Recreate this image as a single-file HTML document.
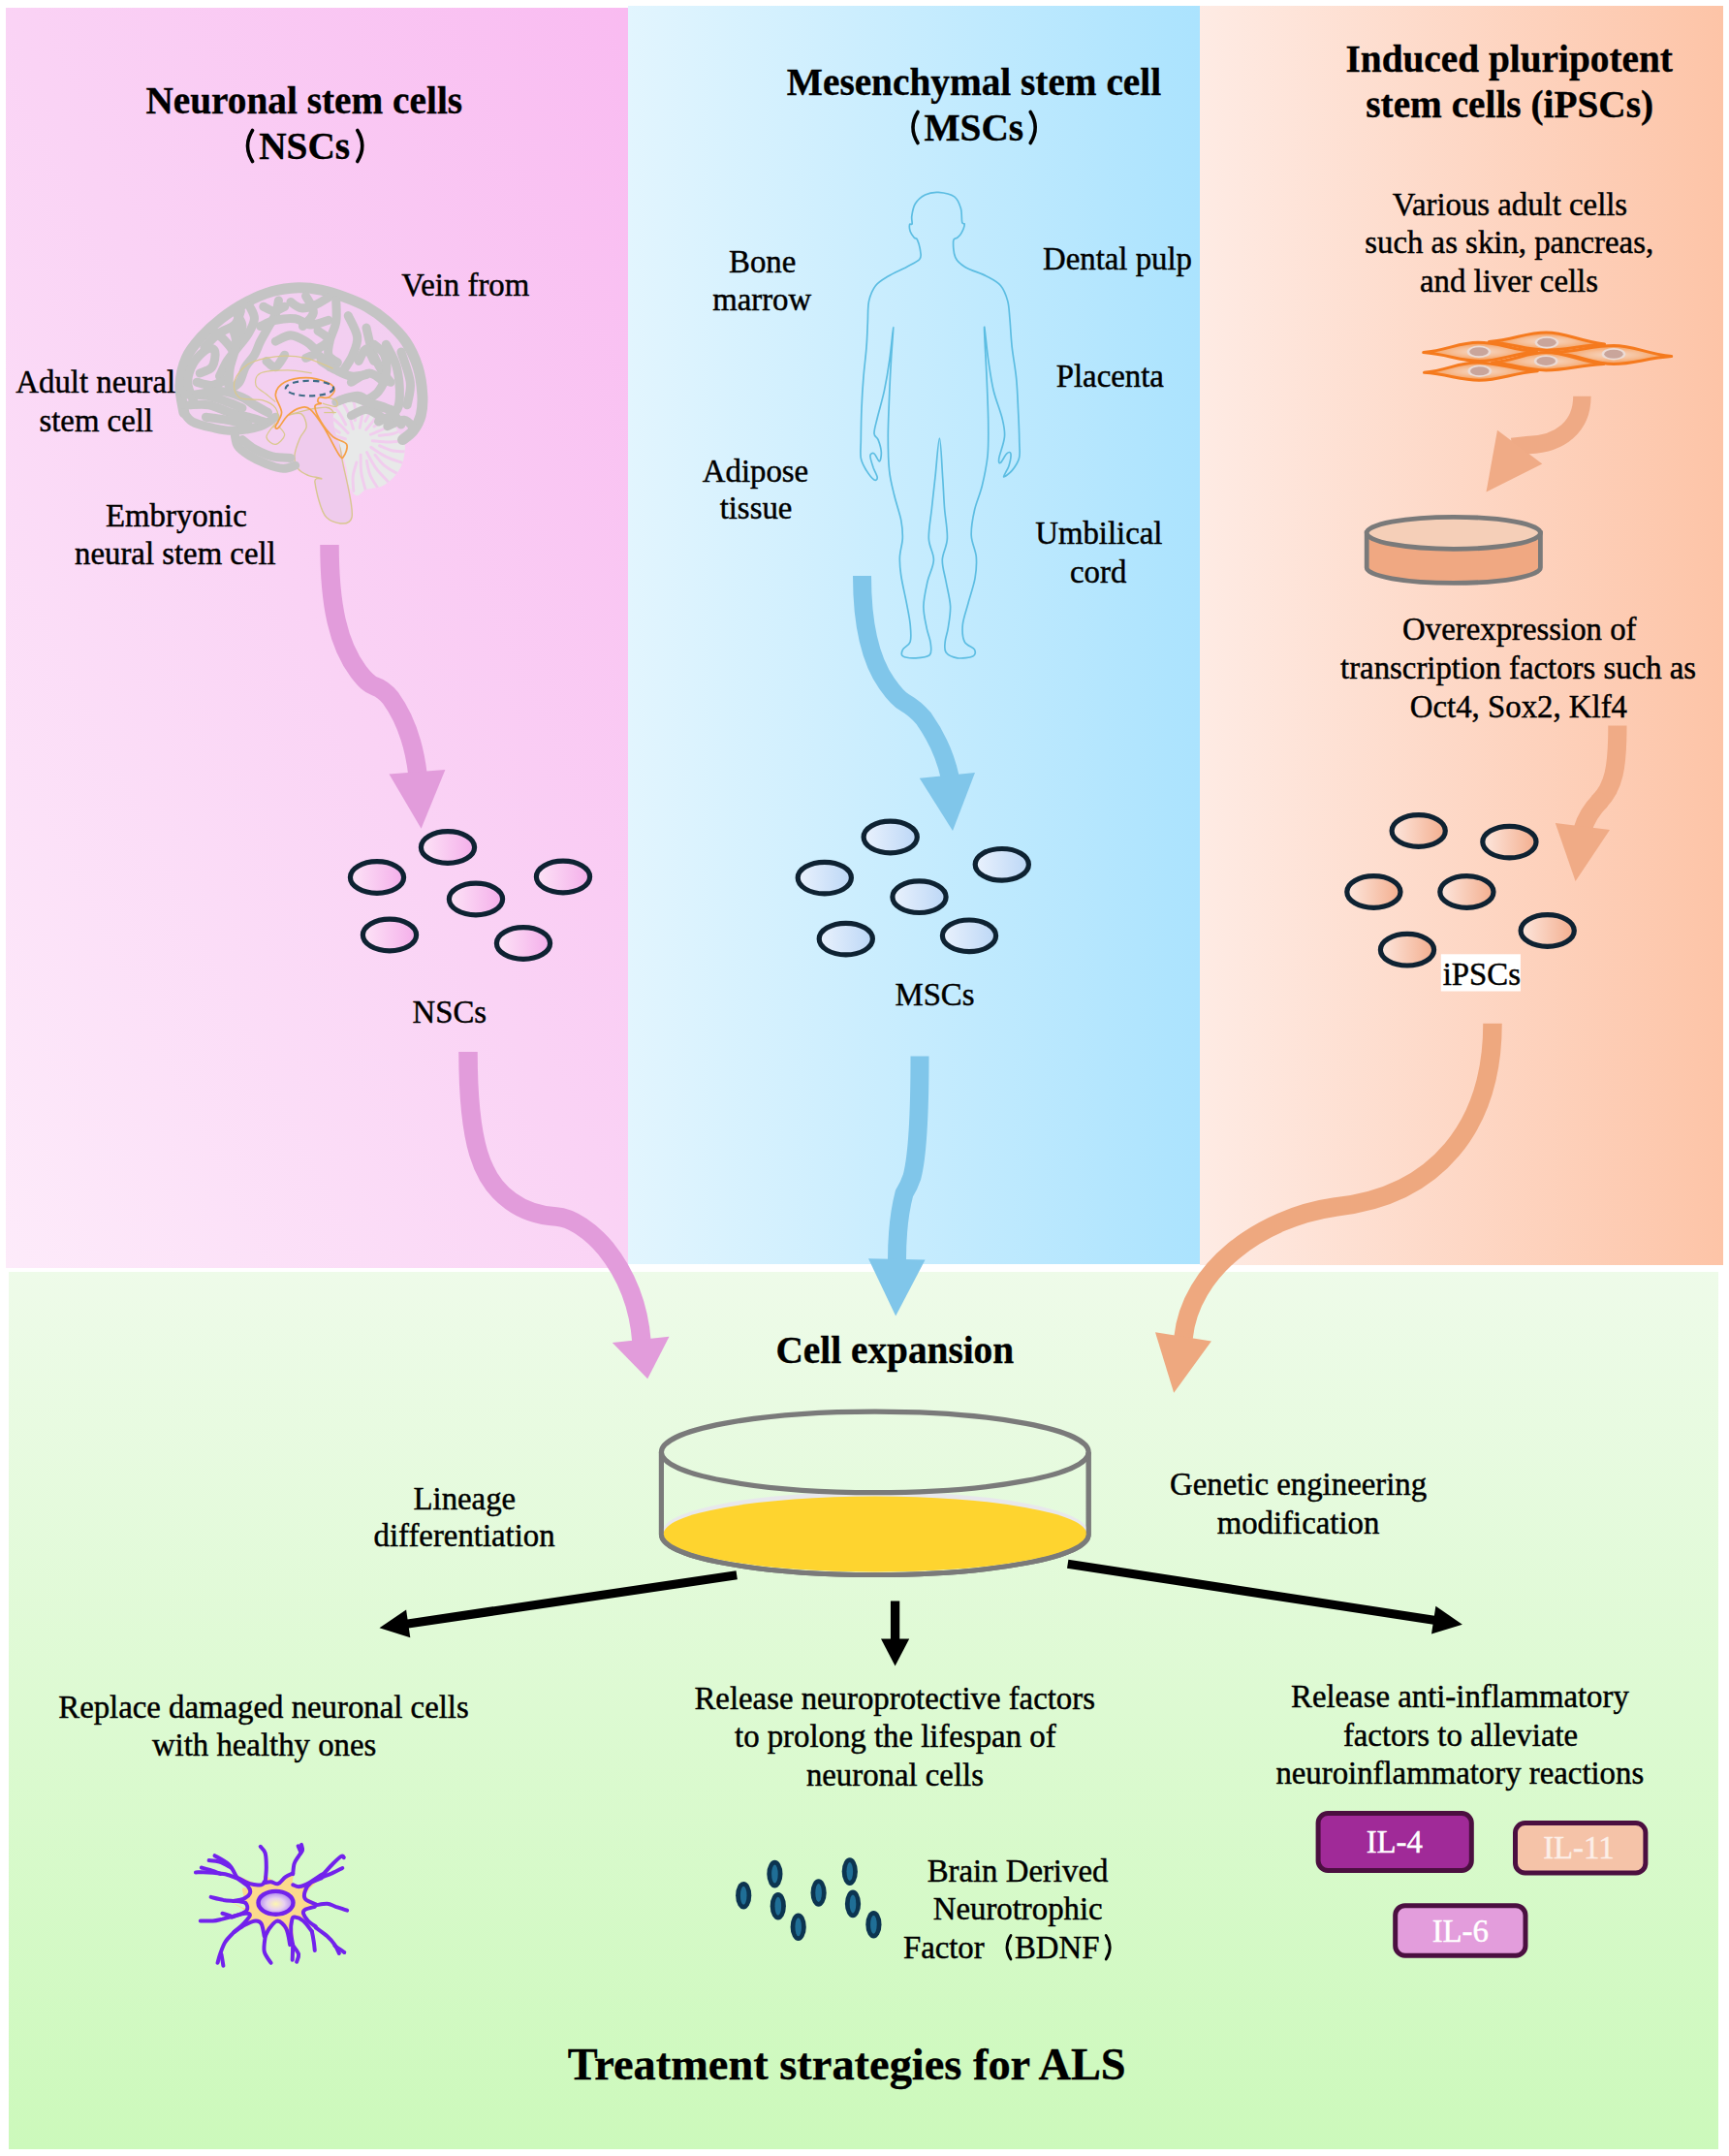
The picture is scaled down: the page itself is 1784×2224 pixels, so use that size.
<!DOCTYPE html>
<html><head><meta charset="utf-8">
<style>
html,body{margin:0;padding:0;background:#fff;width:1784px;height:2224px;overflow:hidden}
svg{display:block}
text{font-family:"Liberation Serif",serif;fill:#000}
.h{font-weight:bold;font-size:39.3px;stroke:#000;stroke-width:0.35px}
.t{font-size:32.8px;stroke:#000;stroke-width:0.45px}
</style></head><body>
<svg width="1784" height="2224" viewBox="0 0 1784 2224">
<defs>
<linearGradient id="gPink" x1="0" y1="1" x2="1" y2="0">
<stop offset="0" stop-color="#fdebfa"/><stop offset="0.5" stop-color="#fad3f5"/><stop offset="1" stop-color="#f9bbf1"/>
</linearGradient>
<linearGradient id="gBlue" x1="0" y1="0" x2="1" y2="0">
<stop offset="0" stop-color="#e2f5fe"/><stop offset="1" stop-color="#abe3fe"/>
</linearGradient>
<linearGradient id="gPeach" x1="0" y1="0" x2="1" y2="0">
<stop offset="0" stop-color="#feebe4"/><stop offset="1" stop-color="#fdc4a7"/>
</linearGradient>
<linearGradient id="gGreen" x1="0" y1="0" x2="0" y2="1">
<stop offset="0" stop-color="#eefbe9"/><stop offset="1" stop-color="#ccf9bb"/>
</linearGradient>
<linearGradient id="cPink" x1="0" y1="0" x2="1" y2="0">
<stop offset="0" stop-color="#fde4f7"/><stop offset="1" stop-color="#f4aeea"/>
</linearGradient>
<linearGradient id="cBlue" x1="0" y1="0" x2="1" y2="0">
<stop offset="0" stop-color="#eaf2fd"/><stop offset="1" stop-color="#bcd7f6"/>
</linearGradient>
<linearGradient id="cPeach" x1="0" y1="0" x2="1" y2="0">
<stop offset="0" stop-color="#fde7de"/><stop offset="1" stop-color="#f3ae8e"/>
</linearGradient>
<radialGradient id="fibro" cx="0.5" cy="0.5" r="0.5">
<stop offset="0" stop-color="#f6d8c4"/><stop offset="0.45" stop-color="#f6c09a"/><stop offset="1" stop-color="#f59a55"/>
</radialGradient>
<radialGradient id="nuc" cx="0.5" cy="0.55" r="0.5">
<stop offset="0" stop-color="#fdf6b0"/><stop offset="0.5" stop-color="#e8d0f0"/><stop offset="1" stop-color="#b088f0"/>
</radialGradient>
</defs>

<!-- panels -->
<rect x="6" y="8" width="642" height="1300" fill="url(#gPink)"/>
<rect x="648" y="6" width="590" height="1298" fill="url(#gBlue)"/>
<rect x="1238" y="6" width="540" height="1299" fill="url(#gPeach)"/>
<rect x="9" y="1312" width="1764" height="905" fill="url(#gGreen)"/>

<!--BRAIN-->
<g transform="translate(175 285) scale(0.15616)">
<path fill="#f0d0ef" opacity="0.7" d="M70.0 880.0 C61.7 836.7 55.0 758.3 60.0 700.0 C65.0 641.7 76.7 581.7 100.0 530.0 C123.3 478.3 161.7 433.3 200.0 390.0 C238.3 346.7 280.0 308.3 330.0 270.0 C380.0 231.7 441.7 190.0 500.0 160.0 C558.3 130.0 621.7 106.7 680.0 90.0 C738.3 73.3 796.7 62.5 850.0 60.0 C903.3 57.5 950.0 65.0 1000.0 75.0 C1050.0 85.0 1100.0 100.8 1150.0 120.0 C1200.0 139.2 1251.7 161.7 1300.0 190.0 C1348.3 218.3 1396.7 251.7 1440.0 290.0 C1483.3 328.3 1525.0 368.3 1560.0 420.0 C1595.0 471.7 1628.3 540.0 1650.0 600.0 C1671.7 660.0 1685.0 725.0 1690.0 780.0 C1695.0 835.0 1690.0 888.3 1680.0 930.0 C1670.0 971.7 1650.0 1003.3 1630.0 1030.0 C1610.0 1056.7 1631.7 1095.0 1560.0 1090.0 C1488.3 1085.0 1301.7 990.0 1200.0 1000.0 C1098.3 1010.0 1010.0 1105.0 950.0 1150.0 C890.0 1195.0 881.7 1247.5 840.0 1270.0 C798.3 1292.5 750.0 1293.3 700.0 1285.0 C650.0 1276.7 581.7 1249.2 540.0 1220.0 C498.3 1190.8 470.0 1139.2 450.0 1110.0 C430.0 1080.8 453.3 1062.5 420.0 1045.0 C386.7 1027.5 301.7 1019.2 250.0 1005.0 C198.3 990.8 140.0 980.8 110.0 960.0 C80.0 939.2 78.3 923.3 70.0 880.0Z"/>
<path fill="#efcbed" stroke="#d8c690" stroke-width="9" d="M793.0 915.0 C776.3 921.3 852.5 896.0 871.0 909.0 C889.5 922.0 905.8 966.0 904.0 993.0 C902.2 1020.0 873.0 1039.5 860.0 1071.0 C847.0 1102.5 828.0 1148.7 826.0 1182.0 C824.0 1215.3 833.2 1248.8 848.0 1271.0 C862.8 1293.2 889.0 1304.0 915.0 1315.0 C941.0 1326.0 996.5 1329.5 1004.0 1337.0 C1011.5 1344.5 954.5 1317.3 960.0 1360.0 C965.5 1402.7 996.3 1554.2 1037.0 1593.0 C1077.7 1631.8 1187.3 1659.7 1204.0 1593.0 C1220.7 1526.3 1151.8 1289.3 1137.0 1193.0 C1122.2 1096.7 1126.0 1066.8 1115.0 1015.0 C1104.0 963.2 1095.0 906.0 1071.0 882.0 C1047.0 858.0 1017.3 865.5 971.0 871.0 C924.7 876.5 809.7 908.7 793.0 915.0Z"/>
<path fill="#e8e9e9" d="M1115.0 859.0 C1134.0 844.0 1162.0 831.5 1196.0 830.0 C1230.0 828.5 1285.0 837.0 1319.0 850.0 C1353.0 863.0 1373.0 886.2 1400.0 908.0 C1427.0 929.8 1457.2 951.8 1481.0 981.0 C1504.8 1010.2 1530.7 1055.8 1543.0 1083.0 C1555.3 1110.2 1556.5 1116.8 1555.0 1144.0 C1553.5 1171.2 1546.3 1215.5 1534.0 1246.0 C1521.7 1276.5 1503.3 1303.3 1481.0 1327.0 C1458.7 1350.7 1430.5 1374.3 1400.0 1388.0 C1369.5 1401.7 1325.2 1398.8 1298.0 1409.0 C1270.8 1419.2 1255.3 1452.5 1237.0 1449.0 C1218.7 1445.5 1199.5 1418.5 1188.0 1388.0 C1176.5 1357.5 1176.8 1306.7 1168.0 1266.0 C1159.2 1225.3 1147.3 1184.7 1135.0 1144.0 C1122.7 1103.3 1102.8 1059.3 1094.0 1022.0 C1085.2 984.7 1078.5 947.2 1082.0 920.0 C1085.5 892.8 1096.0 874.0 1115.0 859.0Z"/>
<clipPath id="cbclip"><path d="M1115.0 859.0 C1134.0 844.0 1162.0 831.5 1196.0 830.0 C1230.0 828.5 1285.0 837.0 1319.0 850.0 C1353.0 863.0 1373.0 886.2 1400.0 908.0 C1427.0 929.8 1457.2 951.8 1481.0 981.0 C1504.8 1010.2 1530.7 1055.8 1543.0 1083.0 C1555.3 1110.2 1556.5 1116.8 1555.0 1144.0 C1553.5 1171.2 1546.3 1215.5 1534.0 1246.0 C1521.7 1276.5 1503.3 1303.3 1481.0 1327.0 C1458.7 1350.7 1430.5 1374.3 1400.0 1388.0 C1369.5 1401.7 1325.2 1398.8 1298.0 1409.0 C1270.8 1419.2 1255.3 1452.5 1237.0 1449.0 C1218.7 1445.5 1199.5 1418.5 1188.0 1388.0 C1176.5 1357.5 1176.8 1306.7 1168.0 1266.0 C1159.2 1225.3 1147.3 1184.7 1135.0 1144.0 C1122.7 1103.3 1102.8 1059.3 1094.0 1022.0 C1085.2 984.7 1078.5 947.2 1082.0 920.0 C1085.5 892.8 1096.0 874.0 1115.0 859.0Z"/></clipPath>
<g clip-path="url(#cbclip)" fill="none" stroke="#f1cdee" stroke-width="19" stroke-linecap="round"><path d="M1161.4 1074.4 C1142.1 1068.8 1085.1 1048.1 1045.7 1041.2 C1006.4 1034.3 945.1 1034.1 925.0 1032.7"/><path d="M1122.1 1033.1 C1108.7 1024.5 1070.4 994.6 1041.4 981.7 C1012.5 968.8 964.0 960.1 948.5 955.8"/><path d="M1179.1 1034.6 C1164.7 1020.7 1124.1 975.6 1092.6 951.0 C1061.0 926.4 1007.1 897.5 990.0 886.8"/><path d="M1163.8 979.7 C1156.0 965.8 1136.2 921.4 1116.7 896.5 C1097.2 871.5 1058.5 841.0 1046.8 830.0"/><path d="M1213.4 1007.8 C1207.2 988.7 1192.5 929.9 1176.2 893.4 C1160.0 856.8 1125.9 806.0 1115.8 788.5"/><path d="M1225.7 952.1 C1225.3 936.2 1228.6 887.7 1223.1 856.5 C1217.6 825.4 1197.8 780.3 1192.7 765.0"/><path d="M1256.3 1000.2 C1259.8 980.5 1274.4 921.7 1277.2 881.8 C1280.0 841.9 1273.7 781.0 1273.0 760.8"/><path d="M1293.3 956.9 C1300.4 942.6 1326.1 901.4 1335.9 871.3 C1345.7 841.1 1349.3 792.0 1352.0 776.2"/><path d="M1297.7 1013.7 C1310.0 997.9 1350.6 952.8 1371.8 918.9 C1393.0 885.0 1416.0 828.3 1424.9 810.1"/><path d="M1350.7 992.7 C1363.7 983.5 1405.8 959.2 1428.5 937.2 C1451.3 915.2 1477.6 873.5 1487.4 860.8"/><path d="M1327.9 1045.0 C1346.3 1036.8 1403.2 1016.1 1437.8 996.1 C1472.5 976.1 1519.5 936.8 1535.8 925.0"/><path d="M1384.6 1051.4 C1400.4 1049.3 1448.9 1047.6 1479.4 1038.9 C1509.8 1030.2 1552.6 1005.7 1567.2 999.0"/><path d="M1339.9 1086.9 C1359.9 1088.3 1420.0 1096.7 1459.9 1095.3 C1499.9 1093.9 1559.8 1081.3 1579.8 1078.5"/><path d="M1386.9 1119.1 C1401.9 1124.7 1445.5 1146.0 1476.5 1152.6 C1507.5 1159.1 1556.7 1157.6 1572.8 1158.6"/><path d="M1330.9 1129.5 C1347.9 1140.1 1396.9 1175.7 1432.9 1193.2 C1468.8 1210.7 1527.6 1227.8 1546.6 1234.7"/><path d="M1357.2 1180.0 C1367.8 1191.9 1396.4 1231.2 1420.6 1251.6 C1444.9 1271.9 1489.1 1293.7 1502.8 1302.1"/><path d="M1302.9 1162.8 C1312.9 1180.2 1339.5 1234.6 1363.0 1267.0 C1386.5 1299.4 1430.5 1342.0 1444.0 1357.0"/><path d="M1302.4 1219.8 C1306.2 1235.3 1312.9 1283.4 1324.8 1312.8 C1336.7 1342.1 1365.5 1382.1 1373.6 1396.0"/><path d="M1262.5 1179.1 C1263.2 1199.2 1261.1 1259.7 1266.7 1299.3 C1272.3 1338.9 1291.1 1397.2 1295.9 1416.8"/><path d="M1235.4 1229.2 C1231.4 1244.7 1214.8 1290.3 1211.5 1321.8 C1208.2 1353.3 1214.8 1402.1 1215.5 1418.2"/></g>
<g fill="none" stroke="#c4c4c4" stroke-width="58" stroke-linecap="round" stroke-linejoin="round"><path d="M95.0 900.0 C90.8 870.0 67.5 780.0 70.0 720.0 C72.5 660.0 86.7 593.3 110.0 540.0 C133.3 486.7 171.7 443.3 210.0 400.0 C248.3 356.7 291.7 317.5 340.0 280.0 C388.3 242.5 443.3 205.0 500.0 175.0 C556.7 145.0 621.7 116.7 680.0 100.0 C738.3 83.3 796.7 76.7 850.0 75.0 C903.3 73.3 950.0 80.0 1000.0 90.0 C1050.0 100.0 1100.0 116.7 1150.0 135.0 C1200.0 153.3 1251.7 172.5 1300.0 200.0 C1348.3 227.5 1396.7 261.7 1440.0 300.0 C1483.3 338.3 1526.7 380.0 1560.0 430.0 C1593.3 480.0 1621.7 541.7 1640.0 600.0 C1658.3 658.3 1666.7 726.7 1670.0 780.0 C1673.3 833.3 1670.0 880.0 1660.0 920.0 C1650.0 960.0 1630.0 993.3 1610.0 1020.0 C1590.0 1046.7 1551.7 1070.0 1540.0 1080.0" stroke-width="70"/><path d="M95.0 900.0 C104.2 910.0 119.2 943.3 150.0 960.0 C180.8 976.7 235.0 990.0 280.0 1000.0 C325.0 1010.0 366.7 1021.7 420.0 1020.0 C473.3 1018.3 553.3 1005.0 600.0 990.0 C646.7 975.0 683.3 940.0 700.0 930.0"/><path d="M430.0 1040.0 C433.3 1053.3 435.0 1096.7 450.0 1120.0 C465.0 1143.3 488.3 1160.0 520.0 1180.0 C551.7 1200.0 601.7 1225.0 640.0 1240.0 C678.3 1255.0 718.3 1268.3 750.0 1270.0 C781.7 1271.7 816.7 1253.3 830.0 1250.0"/><path d="M160.0 830.0 C153.3 808.3 120.0 743.3 120.0 700.0 C120.0 656.7 138.3 606.7 160.0 570.0 C181.7 533.3 226.7 491.7 250.0 480.0 C273.3 468.3 295.0 480.0 300.0 500.0 C305.0 520.0 296.7 576.7 280.0 600.0 C263.3 623.3 213.3 633.3 200.0 640.0"/><path d="M130.0 850.0 C151.7 850.0 215.0 841.7 260.0 850.0 C305.0 858.3 356.7 886.7 400.0 900.0 C443.3 913.3 483.3 920.0 520.0 930.0 C556.7 940.0 603.3 955.0 620.0 960.0"/><path d="M240.0 930.0 C263.3 933.3 333.3 941.7 380.0 950.0 C426.7 958.3 496.7 975.0 520.0 980.0"/><path d="M330.0 660.0 C338.3 643.3 360.0 591.7 380.0 560.0 C400.0 528.3 426.7 500.0 450.0 470.0 C473.3 440.0 501.7 411.7 520.0 380.0 C538.3 348.3 558.3 310.0 560.0 280.0 C561.7 250.0 535.0 213.3 530.0 200.0"/><path d="M230.0 470.0 C245.0 455.0 286.7 405.0 320.0 380.0 C353.3 355.0 405.0 345.0 430.0 320.0 C455.0 295.0 463.3 245.0 470.0 230.0"/><path d="M380.0 760.0 C393.3 750.0 440.0 726.7 460.0 700.0 C480.0 673.3 483.3 630.0 500.0 600.0 C516.7 570.0 543.3 548.3 560.0 520.0 C576.7 491.7 585.0 460.0 600.0 430.0 C615.0 400.0 633.3 370.0 650.0 340.0 C666.7 310.0 688.3 280.0 700.0 250.0 C711.7 220.0 716.7 175.0 720.0 160.0"/><path d="M600.0 330.0 C616.7 323.3 661.7 298.3 700.0 290.0 C738.3 281.7 791.7 275.0 830.0 280.0 C868.3 285.0 893.3 318.3 930.0 320.0 C966.7 321.7 1030.0 295.0 1050.0 290.0"/><path d="M700.0 430.0 C716.7 423.3 766.7 390.0 800.0 390.0 C833.3 390.0 873.3 415.0 900.0 430.0 C926.7 445.0 950.0 471.7 960.0 480.0"/><path d="M800.0 170.0 C811.7 176.7 843.3 206.7 870.0 210.0 C896.7 213.3 930.0 201.7 960.0 190.0 C990.0 178.3 1035.0 148.3 1050.0 140.0"/><path d="M1100.0 160.0 C1100.0 183.3 1106.7 256.7 1100.0 300.0 C1093.3 343.3 1068.3 383.3 1060.0 420.0 C1051.7 456.7 1041.7 495.0 1050.0 520.0 C1058.3 545.0 1100.0 561.7 1110.0 570.0"/><path d="M1180.0 260.0 C1190.0 283.3 1235.0 356.7 1240.0 400.0 C1245.0 443.3 1225.0 483.3 1210.0 520.0 C1195.0 556.7 1160.0 603.3 1150.0 620.0"/><path d="M1300.0 340.0 C1306.7 366.7 1323.3 453.3 1340.0 500.0 C1356.7 546.7 1380.0 586.7 1400.0 620.0 C1420.0 653.3 1450.0 686.7 1460.0 700.0"/><path d="M1430.0 450.0 C1441.7 475.0 1485.0 541.7 1500.0 600.0 C1515.0 658.3 1521.7 750.0 1520.0 800.0 C1518.3 850.0 1513.3 873.3 1490.0 900.0 C1466.7 926.7 1398.3 950.0 1380.0 960.0"/><path d="M1200.0 700.0 C1220.0 690.0 1283.3 640.0 1320.0 640.0 C1356.7 640.0 1403.3 690.0 1420.0 700.0"/><path d="M1120.0 820.0 C1141.7 815.0 1211.7 785.0 1250.0 790.0 C1288.3 795.0 1315.0 835.0 1350.0 850.0 C1385.0 865.0 1441.7 875.0 1460.0 880.0"/><path d="M1440.0 990.0 C1458.3 983.3 1520.0 946.7 1550.0 950.0 C1580.0 953.3 1608.3 1000.0 1620.0 1010.0"/><path d="M640.0 560.0 C650.0 566.7 680.0 606.7 700.0 600.0 C720.0 593.3 750.0 533.3 760.0 520.0"/><path d="M900.0 540.0 C913.3 536.7 953.3 510.0 980.0 520.0 C1006.7 530.0 1046.7 586.7 1060.0 600.0"/><path d="M290.0 360.0 C301.7 370.0 338.3 396.7 360.0 420.0 C381.7 443.3 413.3 476.7 420.0 500.0 C426.7 523.3 403.3 550.0 400.0 560.0"/><path d="M450.0 260.0 C455.0 271.7 481.7 303.3 480.0 330.0 C478.3 356.7 446.7 405.0 440.0 420.0"/><path d="M620.0 200.0 C631.7 205.0 666.7 230.0 690.0 230.0 C713.3 230.0 748.3 205.0 760.0 200.0"/><path d="M900.0 130.0 C908.3 148.3 953.3 206.7 950.0 240.0 C946.7 273.3 891.7 315.0 880.0 330.0"/><path d="M980.0 360.0 C991.7 370.0 1050.0 400.0 1050.0 420.0 C1050.0 440.0 991.7 470.0 980.0 480.0"/><path d="M1250.0 560.0 C1258.3 546.7 1283.3 480.0 1300.0 480.0 C1316.7 480.0 1341.7 546.7 1350.0 560.0"/><path d="M1530.0 500.0 C1540.0 533.3 1583.3 641.7 1590.0 700.0 C1596.7 758.3 1573.3 825.0 1570.0 850.0"/><path d="M180.0 700.0 C196.7 703.3 246.7 723.3 280.0 720.0 C313.3 716.7 363.3 686.7 380.0 680.0"/><path d="M100.0 780.0 C125.0 781.7 203.3 781.7 250.0 790.0 C296.7 798.3 341.7 816.7 380.0 830.0 C418.3 843.3 463.3 863.3 480.0 870.0"/><path d="M1200.0 920.0 C1216.7 913.3 1266.7 878.3 1300.0 880.0 C1333.3 881.7 1383.3 921.7 1400.0 930.0"/><path d="M480.0 1080.0 C493.3 1090.0 526.7 1121.7 560.0 1140.0 C593.3 1158.3 640.0 1180.0 680.0 1190.0 C720.0 1200.0 780.0 1198.3 800.0 1200.0"/><path d="M1000.0 560.0 C1016.7 570.0 1066.7 603.3 1100.0 620.0 C1133.3 636.7 1166.7 655.0 1200.0 660.0 C1233.3 665.0 1283.3 651.7 1300.0 650.0"/><path d="M1350.0 450.0 C1361.7 461.7 1406.7 486.7 1420.0 520.0 C1433.3 553.3 1436.7 610.0 1430.0 650.0 C1423.3 690.0 1401.7 731.7 1380.0 760.0 C1358.3 788.3 1313.3 810.0 1300.0 820.0"/><path d="M1100.0 830.0 C1116.7 825.0 1166.7 800.0 1200.0 800.0 C1233.3 800.0 1258.3 816.7 1300.0 830.0 C1341.7 843.3 1411.7 855.0 1450.0 880.0 C1488.3 905.0 1516.7 963.3 1530.0 980.0"/><path d="M180.0 780.0 C208.3 776.7 300.0 756.7 350.0 760.0 C400.0 763.3 445.0 785.0 480.0 800.0 C515.0 815.0 531.7 833.3 560.0 850.0 C588.3 866.7 635.0 891.7 650.0 900.0"/><path d="M420.0 350.0 C423.3 366.7 443.3 408.3 440.0 450.0 C436.7 491.7 408.3 555.0 400.0 600.0 C391.7 645.0 391.7 700.0 390.0 720.0"/></g>
<g fill="none" stroke="#dac88e" stroke-width="8"><path d="M1080.0 610.0 C1050.0 598.3 963.3 553.3 900.0 540.0 C836.7 526.7 763.3 523.3 700.0 530.0 C636.7 536.7 565.0 553.3 520.0 580.0 C475.0 606.7 440.0 653.3 430.0 690.0 C420.0 726.7 428.3 778.3 460.0 800.0 C491.7 821.7 580.0 808.3 620.0 820.0 C660.0 831.7 683.3 846.7 700.0 870.0 C716.7 893.3 723.3 938.3 720.0 960.0 C716.7 981.7 686.7 993.3 680.0 1000.0"/><path d="M940.0 640.0 C913.3 636.7 836.7 620.0 780.0 620.0 C723.3 620.0 635.0 623.3 600.0 640.0 C565.0 656.7 563.3 696.7 570.0 720.0 C576.7 743.3 618.3 761.7 640.0 780.0 C661.7 798.3 690.0 821.7 700.0 830.0"/><path d="M700.0 970.0 C690.0 985.0 640.0 1036.7 640.0 1060.0 C640.0 1083.3 680.0 1111.7 700.0 1110.0 C720.0 1108.3 756.7 1070.0 760.0 1050.0 C763.3 1030.0 726.7 1000.0 720.0 990.0"/><path d="M1010.0 840.0 C1025.0 843.3 1085.0 863.3 1100.0 860.0 C1115.0 856.7 1110.0 830.0 1100.0 820.0 C1090.0 810.0 1050.0 803.3 1040.0 800.0"/><path d="M1020.0 900.0 C1033.3 900.0 1086.7 900.0 1100.0 900.0"/></g>
<path fill="none" stroke="#f5a046" stroke-width="11" stroke-linejoin="round" d="M700.0 990.0 C703.3 973.3 740.0 935.0 740.0 900.0 C740.0 865.0 696.7 813.3 700.0 780.0 C703.3 746.7 726.7 718.3 760.0 700.0 C793.3 681.7 853.3 670.0 900.0 670.0 C946.7 670.0 1008.3 686.7 1040.0 700.0 C1071.7 713.3 1088.3 733.3 1090.0 750.0 C1091.7 766.7 1066.7 791.7 1050.0 800.0 C1033.3 808.3 1001.7 795.0 990.0 800.0 C978.3 805.0 978.3 823.3 980.0 830.0 C981.7 836.7 1003.3 835.0 1000.0 840.0 C996.7 845.0 960.0 840.0 960.0 860.0 C960.0 880.0 980.0 926.7 1000.0 960.0 C1020.0 993.3 1051.7 1035.0 1080.0 1060.0 C1108.3 1085.0 1158.3 1088.3 1170.0 1110.0 C1181.7 1131.7 1158.3 1178.3 1150.0 1190.0 C1141.7 1201.7 1141.7 1211.7 1120.0 1180.0 C1098.3 1148.3 1051.7 1050.0 1020.0 1000.0 C988.3 950.0 956.7 901.7 930.0 880.0 C903.3 858.3 885.0 863.3 860.0 870.0 C835.0 876.7 803.3 898.3 780.0 920.0 C756.7 941.7 733.3 988.3 720.0 1000.0 C706.7 1011.7 696.7 1006.7 700.0 990.0Z"/>
<ellipse cx="925" cy="740" rx="158" ry="50" fill="none" stroke="#3f6b86" stroke-width="14" stroke-dasharray="40 28"/>
</g>
<!--/BRAIN-->
<path fill="none" stroke="#5cbde2" stroke-width="1.7" stroke-linejoin="round" d="M968.2 198.4 C963.1 198.1 958.5 199.0 954.5 201.0 C950.5 203.0 946.6 206.6 944.3 210.2 C942.0 213.9 941.3 219.5 940.8 222.9 C940.3 226.4 941.5 229.5 941.1 230.9 C940.7 232.3 938.9 230.2 938.6 231.5 C938.3 232.9 938.4 236.6 939.2 238.8 C940.0 241.1 942.1 243.8 943.3 245.2 C944.6 246.6 945.5 245.1 946.5 247.4 C947.6 249.8 949.3 256.2 949.7 259.5 C950.1 262.9 951.1 264.8 948.8 267.5 C946.4 270.1 940.8 272.5 935.4 275.4 C930.0 278.3 921.6 281.8 916.3 285.0 C911.0 288.2 906.9 290.3 903.6 294.5 C900.3 298.8 898.0 304.1 896.6 310.4 C895.2 316.8 895.7 324.7 895.3 332.7 C894.9 340.6 894.8 348.6 894.0 358.1 C893.3 367.7 891.7 379.3 890.9 389.9 C890.0 400.5 889.4 411.2 889.0 421.8 C888.5 432.4 888.4 445.1 888.3 453.6 C888.2 462.0 887.4 467.4 888.3 472.7 C889.3 478.0 891.8 481.7 894.0 485.4 C896.3 489.1 900.1 493.8 902.0 494.9 C903.8 496.1 905.3 494.5 905.2 492.4 C905.0 490.3 902.3 485.9 901.0 482.2 C899.8 478.5 897.7 472.5 897.9 470.1 C898.0 467.7 900.4 466.9 902.0 467.9 C903.6 468.8 906.2 476.1 907.4 475.8 C908.6 475.6 909.5 470.0 909.3 466.3 C909.1 462.6 907.3 456.7 906.1 453.6 C904.9 450.4 902.2 450.9 902.0 447.2 C901.8 443.5 903.4 438.7 905.2 431.3 C906.9 423.9 910.4 412.7 912.5 402.7 C914.6 392.6 916.4 381.7 917.9 370.9 C919.4 360.0 921.5 337.5 921.7 337.5 C922.0 337.5 920.2 358.9 919.5 370.9 C918.8 382.8 918.1 395.8 917.6 409.0 C917.1 422.3 916.3 437.7 916.3 450.4 C916.3 463.1 916.5 475.3 917.6 485.4 C918.6 495.4 920.7 502.3 922.7 510.8 C924.7 519.3 928.2 528.8 929.7 536.3 C931.1 543.7 931.5 549.0 931.3 555.4 C931.0 561.7 928.7 568.1 928.4 574.4 C928.1 580.8 928.5 585.6 929.7 593.5 C930.8 601.5 933.8 613.7 935.4 622.2 C937.0 630.6 938.6 637.8 939.2 644.4 C939.8 651.1 940.5 657.7 939.2 661.9 C937.9 666.2 932.8 667.4 931.6 669.9 C930.3 672.4 929.4 675.4 931.6 676.9 C933.8 678.4 940.3 679.0 944.9 678.8 C949.5 678.6 956.7 678.1 959.3 675.6 C961.8 673.1 960.7 668.2 960.2 663.5 C959.7 658.8 957.3 654.0 956.1 647.6 C954.9 641.2 952.7 633.3 952.9 625.3 C953.0 617.4 955.3 607.8 957.0 599.9 C958.8 591.9 963.2 585.0 963.4 577.6 C963.6 570.2 958.6 564.4 958.3 555.4 C958.0 546.3 960.4 534.2 961.5 523.5 C962.6 512.9 963.7 503.7 965.0 491.7 C966.3 479.8 968.2 452.0 969.4 452.0 C970.7 452.0 971.8 479.8 972.6 491.7 C973.5 503.7 973.7 512.9 974.5 523.5 C975.3 534.2 977.8 546.3 977.4 555.4 C977.0 564.4 972.5 570.2 972.3 577.6 C972.1 585.0 974.7 591.9 976.1 599.9 C977.5 607.8 980.2 617.4 980.6 625.3 C980.9 633.3 979.2 641.5 978.3 647.6 C977.4 653.7 975.5 657.7 975.2 661.9 C974.8 666.2 974.0 670.2 976.1 673.1 C978.2 675.9 983.3 678.1 987.9 678.8 C992.5 679.4 1000.9 678.4 1003.8 676.9 C1006.7 675.4 1006.8 672.4 1005.4 669.9 C1003.9 667.4 997.2 666.2 995.2 661.9 C993.2 657.7 992.7 651.1 993.3 644.4 C993.9 637.8 996.9 630.1 999.0 622.2 C1001.1 614.2 1004.6 604.7 1006.0 596.7 C1007.4 588.8 1007.9 581.9 1007.3 574.4 C1006.6 567.0 1002.5 560.1 1002.2 552.2 C1001.9 544.2 1003.5 535.2 1005.4 526.7 C1007.2 518.2 1011.0 510.8 1013.3 501.3 C1015.6 491.7 1018.0 480.6 1019.1 469.5 C1020.1 458.3 1019.8 447.7 1019.7 434.5 C1019.5 421.2 1018.8 406.1 1018.1 389.9 C1017.4 373.8 1015.3 340.6 1015.6 337.5 C1015.8 334.3 1018.1 360.0 1019.7 370.9 C1021.3 381.7 1022.7 392.6 1025.1 402.7 C1027.5 412.7 1032.1 423.3 1034.0 431.3 C1035.9 439.3 1037.1 443.5 1036.5 450.4 C1036.0 457.3 1031.5 468.1 1030.8 472.7 C1030.1 477.2 1031.1 478.2 1032.4 477.4 C1033.7 476.6 1037.0 469.5 1038.8 467.9 C1040.5 466.3 1042.5 465.8 1042.9 467.9 C1043.3 470.0 1042.2 476.6 1041.0 480.6 C1039.8 484.6 1035.1 490.9 1035.6 491.7 C1036.1 492.5 1041.5 488.6 1044.2 485.4 C1046.8 482.2 1050.2 477.4 1051.5 472.7 C1052.8 467.9 1052.0 465.2 1051.8 456.7 C1051.7 448.3 1051.1 432.9 1050.5 421.8 C1050.0 410.6 1049.7 400.5 1048.6 389.9 C1047.6 379.3 1045.3 368.2 1044.2 358.1 C1043.1 348.1 1042.7 337.5 1042.0 329.5 C1041.2 321.6 1041.3 316.3 1039.7 310.4 C1038.1 304.6 1036.0 298.8 1032.4 294.5 C1028.8 290.3 1024.2 288.2 1018.1 285.0 C1012.0 281.8 1001.2 278.7 995.8 275.4 C990.4 272.1 987.7 269.8 985.7 265.3 C983.6 260.7 983.4 251.7 983.7 248.4 C984.1 245.1 986.5 246.5 987.9 245.2 C989.3 243.9 990.8 242.7 992.0 240.4 C993.2 238.2 995.1 233.4 995.2 231.5 C995.3 229.7 993.3 232.1 992.7 229.3 C992.0 226.5 992.7 219.4 991.4 215.0 C990.1 210.6 988.6 205.7 984.7 202.9 C980.8 200.1 973.2 198.8 968.2 198.4Z"/>

<path d="M1469.5 384.3 C1493.8 381.7 1504.7 374.0 1523.6 374.0 C1545.6 374.0 1558.1 380.5 1586.4 382.7 C1559.6 385.1 1547.7 392.2 1526.8 392.2 C1506.7 392.2 1495.3 386.3 1469.5 384.3 Z" fill="url(#fibro)" stroke="#f57a1e" stroke-width="3" stroke-linejoin="round"/>
<ellipse cx="1526.8" cy="382.7" rx="12.3" ry="6.2" fill="#ecdcd6"/><ellipse cx="1526.8" cy="382.7" rx="9.8" ry="4.5" fill="#c9a59b"/>
<path d="M1539.5 374.0 C1564.6 371.4 1575.7 363.6 1595.2 363.6 C1616.1 363.6 1628.0 372.5 1654.8 375.5 C1628.0 377.1 1616.1 381.9 1595.2 381.9 C1575.7 381.9 1564.6 376.0 1539.5 374.0 Z" fill="url(#fibro)" stroke="#f57a1e" stroke-width="3" stroke-linejoin="round"/>
<ellipse cx="1595.2" cy="372.4" rx="12.3" ry="6.2" fill="#ecdcd6"/><ellipse cx="1595.2" cy="372.4" rx="9.8" ry="4.5" fill="#c9a59b"/>
<path d="M1468.7 363.6 C1494.1 361.0 1505.4 353.3 1525.2 353.3 C1546.3 353.3 1558.4 360.4 1585.6 362.8 C1559.1 365.2 1547.4 372.4 1526.8 372.4 C1506.5 372.4 1494.8 365.8 1468.7 363.6 Z" fill="url(#fibro)" stroke="#f57a1e" stroke-width="3" stroke-linejoin="round"/>
<ellipse cx="1526.0" cy="362.8" rx="12.3" ry="6.2" fill="#ecdcd6"/><ellipse cx="1526.0" cy="362.8" rx="9.8" ry="4.5" fill="#c9a59b"/>
<path d="M1536.3 352.5 C1562.8 350.1 1574.6 343.0 1595.2 343.0 C1616.3 343.0 1628.4 351.9 1655.6 354.9 C1628.4 356.5 1616.3 361.2 1595.2 361.2 C1574.6 361.2 1562.8 354.7 1536.3 352.5 Z" fill="url(#fibro)" stroke="#f57a1e" stroke-width="3" stroke-linejoin="round"/>
<ellipse cx="1596.0" cy="353.3" rx="12.3" ry="6.2" fill="#ecdcd6"/><ellipse cx="1596.0" cy="353.3" rx="9.8" ry="4.5" fill="#c9a59b"/>
<path d="M1603.0 363.6 C1630.9 361.8 1643.3 356.5 1665.0 356.5 C1685.9 356.5 1697.8 364.8 1724.7 367.6 C1697.8 369.6 1685.9 375.5 1665.0 375.5 C1643.3 375.5 1630.9 366.6 1603.0 363.6 Z" fill="url(#fibro)" stroke="#f57a1e" stroke-width="3" stroke-linejoin="round"/>
<ellipse cx="1665.0" cy="365.2" rx="12.3" ry="6.2" fill="#ecdcd6"/><ellipse cx="1665.0" cy="365.2" rx="9.8" ry="4.5" fill="#c9a59b"/>

<!-- headers -->
<text class="h" x="313.8" y="117" text-anchor="middle">Neuronal stem cells</text>
<text class="h" x="314.2" y="163.6" text-anchor="middle">NSCs</text>
<text class="h" x="1005" y="97.8" text-anchor="middle">Mesenchymal stem cell</text>
<text class="h" x="1004.8" y="144.9" text-anchor="middle">MSCs</text>
<text class="h" x="1557.2" y="74.4" text-anchor="middle">Induced pluripotent</text>
<text class="h" x="1557.7" y="121.4" text-anchor="middle">stem cells (iPSCs)</text>
<text class="h" x="923.3" y="1406.3" text-anchor="middle">Cell expansion</text>
<text class="h" x="873.7" y="2144.7" text-anchor="middle" style="font-size:46.4px">Treatment strategies for ALS</text>

<!-- parens -->
<g fill="none" stroke="#000" stroke-width="3.6" stroke-linecap="round">
<path d="M260.5 134.5 Q250.5 150.5 260.5 166.5"/>
<path d="M368.8 134.5 Q378.8 150.5 368.8 166.5"/>
<path d="M947 115.5 Q937 131.5 947 147.5"/>
<path d="M1063.2 115.5 Q1073.2 131.5 1063.2 147.5"/>
</g>
<g fill="none" stroke="#000" stroke-width="2.8" stroke-linecap="round">
<path d="M1043 1996.5 Q1035 2008.7 1043 2021"/>
<path d="M1141.2 1996.5 Q1149.2 2008.7 1141.2 2021"/>
</g>

<!-- NSC texts -->
<text class="t" x="480.2" y="305.1" text-anchor="middle">Vein from</text>
<text class="t" x="98.8" y="405.2" text-anchor="middle">Adult neural</text>
<text class="t" x="99.2" y="445.1" text-anchor="middle">stem cell</text>
<text class="t" x="181.9" y="542.8" text-anchor="middle">Embryonic</text>
<text class="t" x="180.9" y="582.4" text-anchor="middle">neural stem cell</text>
<text class="t" x="463.8" y="1054.7" text-anchor="middle">NSCs</text>

<!-- MSC texts -->
<text class="t" x="786.7" y="281.4" text-anchor="middle">Bone</text>
<text class="t" x="786.2" y="320.4" text-anchor="middle">marrow</text>
<text class="t" x="1153" y="278.4" text-anchor="middle">Dental pulp</text>
<text class="t" x="1145.3" y="399.2" text-anchor="middle">Placenta</text>
<text class="t" x="779.5" y="496.8" text-anchor="middle">Adipose</text>
<text class="t" x="780" y="535.1" text-anchor="middle">tissue</text>
<text class="t" x="1133.8" y="561.4" text-anchor="middle">Umbilical</text>
<text class="t" x="1133.2" y="600.8" text-anchor="middle">cord</text>
<text class="t" x="964.5" y="1036.8" text-anchor="middle">MSCs</text>

<!-- iPSC texts -->
<text class="t" x="1558" y="222.3" text-anchor="middle">Various adult cells</text>
<text class="t" x="1557.2" y="261.3" text-anchor="middle">such as skin, pancreas,</text>
<text class="t" x="1557" y="300.6" text-anchor="middle">and liver cells</text>
<text class="t" x="1567.8" y="660.0" text-anchor="middle">Overexpression of</text>
<text class="t" x="1566.6" y="699.8" text-anchor="middle">transcription factors such as</text>
<text class="t" x="1566.9" y="739.5" text-anchor="middle">Oct4, Sox2, Klf4</text>
<rect x="1486.8" y="984.3" width="82.1" height="38.2" fill="#fff"/>
<text class="t" x="1528.8" y="1015.9" text-anchor="middle">iPSCs</text>

<!-- bottom texts -->
<text class="t" x="479.3" y="1557.0" text-anchor="middle">Lineage</text>
<text class="t" x="479.1" y="1595.4" text-anchor="middle">differentiation</text>
<text class="t" x="1339.6" y="1542.0" text-anchor="middle">Genetic engineering</text>
<text class="t" x="1339.5" y="1581.7" text-anchor="middle">modification</text>
<text class="t" x="272" y="1771.8" text-anchor="middle">Replace damaged neuronal cells</text>
<text class="t" x="272.6" y="1811.3" text-anchor="middle">with healthy ones</text>
<text class="t" x="923.2" y="1763.4" text-anchor="middle">Release neuroprotective factors</text>
<text class="t" x="923.8" y="1802.3" text-anchor="middle">to prolong the lifespan of</text>
<text class="t" x="923.4" y="1842.4" text-anchor="middle">neuronal cells</text>
<text class="t" x="1050" y="1941.1" text-anchor="middle">Brain Derived</text>
<text class="t" x="1050.2" y="1980.0" text-anchor="middle">Neurotrophic</text>
<text class="t" x="973.8" y="2019.5" text-anchor="middle">Factor</text>
<text class="t" x="1090.7" y="2019.5" text-anchor="middle">BDNF</text>
<text class="t" x="1506.4" y="1761.4" text-anchor="middle">Release anti-inflammatory</text>
<text class="t" x="1507" y="1801.2" text-anchor="middle">factors to alleviate</text>
<text class="t" x="1506.3" y="1839.8" text-anchor="middle">neuroinflammatory reactions</text>

<!-- colored arrows -->
<g fill="none" stroke-linecap="butt" stroke-linejoin="round">
<path stroke="#e29cdb" stroke-width="19.5" d="M340 562 C340 625 349 665 370 693 C377 702 381 706 387 708 C393 710 398 714 403 720 C416 738 427 765 431 799"/>
<path stroke="#80c6ea" stroke-width="19" d="M889.5 594 C889.5 642 898 681 915 705 C922 715 928 722 934 725 C941 729 947 734 953 741 C965 758 975 778 980 801"/>
<path stroke="#e29cdb" stroke-width="19.5" d="M483 1085 C483 1180 497 1218 527 1239 C542 1250 558 1254 574 1255 C590 1256 610 1270 625 1288 C645 1313 659 1345 662 1384"/>
<path stroke="#80c6ea" stroke-width="19" d="M949 1089.5 C949 1150 946 1195 941 1214 Q938 1223 933 1231 C928 1250 925.5 1270 925.5 1300"/>
<path stroke="#eea87f" stroke-width="19.5" d="M1540 1055.7 C1540 1162 1482 1234 1378 1245 C1300 1256 1228 1310 1221 1380"/>
<path stroke="#efaa85" stroke-width="18.4" d="M1632.4 408.8 C1632.4 440 1610 458 1578 459 L1560 461"/>
<path stroke="#f0ab86" stroke-width="19.2" d="M1668.9 748.4 C1669 792 1665 812 1650 827"/><path stroke="#f0ab86" stroke-width="19.2" d="M1652 825 C1641 836 1636 845 1633 856"/>
</g>
<polygon fill="#e29cdb" points="401.5,798.6 459.4,794 434.6,854.7"/>
<polygon fill="#80c6ea" points="948.8,802.7 1006,797 983,857"/>
<polygon fill="#e29cdb" points="631.8,1385 690.5,1378.7 668.2,1422.2"/>
<polygon fill="#80c6ea" points="896,1298.2 954.6,1299.6 924.2,1357.4"/>
<polygon fill="#eea87f" points="1192,1374.2 1249.9,1383.5 1211.2,1436.7"/>
<polygon fill="#f0ab86" points="1545,443.7 1591.3,478.4 1533.5,507.4"/>
<polygon fill="#f0ab86" points="1604.8,849 1661,856 1625.6,909"/>
<circle cx="1650" cy="827" r="9.6" fill="#f0ab86"/>
<!-- black arrows -->
<line x1="760.2" y1="1624.7" x2="419.2" y2="1675.2" stroke="#000" stroke-width="9.2"/><polygon points="391.5,1679.3 419.1,1660.6 423.3,1689.2" fill="#000"/>
<line x1="1101.7" y1="1613.2" x2="1481.2" y2="1671.5" stroke="#000" stroke-width="9.2"/><polygon points="1508.9,1675.7 1477.0,1685.5 1481.4,1656.8" fill="#000"/>
<line x1="923.6" y1="1651.5" x2="923.6" y2="1692.6" stroke="#000" stroke-width="9.3"/><polygon points="923.6,1718.6 909.0,1690.6 938.2,1690.6" fill="#000"/>

<path fill="#fcd98c" d="M286.9 1943.2 C290.4 1943.7 290.8 1938.9 293.3 1937.3 C295.9 1935.6 300.6 1931.9 302.2 1933.3 C303.7 1934.8 300.0 1944.3 302.7 1946.1 C305.3 1947.9 313.1 1945.8 317.9 1944.2 C322.7 1942.5 332.0 1934.7 331.7 1936.3 C331.3 1937.9 316.9 1949.2 315.9 1954.0 C315.0 1958.7 326.1 1961.7 325.8 1964.8 C325.4 1967.9 314.1 1968.7 314.0 1972.7 C313.8 1976.6 326.6 1987.4 324.8 1988.4 C323.0 1989.4 306.9 1976.1 303.2 1978.6 C299.4 1981.0 305.1 2002.7 302.2 2003.2 C299.2 2003.6 290.2 1982.3 285.5 1981.5 C280.7 1980.7 276.6 1998.1 273.7 1998.2 C270.7 1998.4 271.7 1984.1 267.8 1982.5 C263.8 1980.9 251.7 1989.6 250.1 1988.4 C248.4 1987.3 259.6 1979.9 257.9 1975.6 C256.3 1971.4 240.9 1964.2 240.2 1962.8 C239.6 1961.5 252.4 1970.2 254.0 1967.8 C255.6 1965.3 249.2 1951.2 250.1 1948.1 C250.9 1945.0 260.2 1951.4 258.9 1949.1 C257.6 1946.8 240.4 1935.1 242.2 1934.3 C244.0 1933.5 264.6 1944.2 269.7 1944.2 C274.8 1944.2 269.8 1934.5 272.7 1934.3 C275.5 1934.2 283.5 1942.7 286.9 1943.2Z"/>
<g fill="none" stroke="#7222ec" stroke-width="4.0" stroke-linecap="round" stroke-linejoin="round">
<path d="M272.7 1942.2 C273.8 1942.0 277.2 1941.0 279.6 1941.2 C281.9 1941.4 284.5 1944.0 286.9 1943.2 C289.4 1942.4 291.8 1938.1 294.3 1936.3 C296.8 1934.5 300.9 1933.0 302.2 1932.4"/>
<path d="M302.2 1944.2 C303.3 1944.5 306.3 1946.5 309.1 1946.1 C311.8 1945.8 315.0 1944.3 318.9 1942.2 C322.8 1940.1 330.4 1934.8 332.6 1933.3"/>
<path d="M331.7 1937.3 C329.9 1938.1 323.6 1940.1 320.8 1942.2 C318.1 1944.3 315.9 1947.3 315.0 1950.1 C314.0 1952.8 313.1 1956.5 315.0 1958.9 C316.8 1961.3 324.0 1963.4 325.8 1964.3"/>
<path d="M324.8 1966.8 C323.1 1967.3 316.9 1968.6 315.0 1969.7 C313.0 1970.9 312.5 1971.7 313.0 1973.7 C313.5 1975.6 315.8 1979.2 317.9 1981.5 C320.0 1983.8 324.5 1986.4 325.8 1987.4"/>
<path d="M321.8 1992.3 C320.4 1990.5 315.9 1984.0 313.0 1981.5 C310.0 1979.1 306.1 1977.8 304.1 1977.6 C302.2 1977.4 301.8 1977.9 301.2 1980.5 C300.5 1983.2 300.0 1989.1 300.2 1993.3 C300.4 1997.6 301.8 2004.0 302.2 2006.1"/>
<path d="M299.2 2006.1 C298.6 2003.3 297.4 1993.5 295.3 1989.4 C293.2 1985.3 289.2 1981.7 286.4 1981.5 C283.7 1981.4 280.7 1985.8 278.6 1988.4 C276.4 1991.0 274.5 1995.8 273.7 1997.3"/>
<path d="M272.7 1997.3 C272.2 1995.1 271.2 1987.1 269.7 1984.5 C268.2 1981.8 266.6 1981.4 263.8 1981.5 C261.0 1981.7 256.8 1983.5 253.0 1985.5 C249.2 1987.4 243.2 1992.0 241.2 1993.3"/>
<path d="M242.2 1992.3 C243.8 1990.9 249.4 1986.3 252.0 1983.5 C254.6 1980.7 257.8 1977.3 257.9 1975.6 C258.1 1974.0 255.8 1973.5 253.0 1973.7 C250.2 1973.8 243.2 1976.1 241.2 1976.6"/>
<path d="M239.2 1977.6 C241.0 1976.9 247.4 1975.0 250.1 1973.7 C252.7 1972.3 254.5 1971.5 255.0 1969.7 C255.5 1967.9 255.3 1964.3 253.0 1962.8 C250.7 1961.4 243.2 1961.2 241.2 1960.9"/>
<path d="M241.2 1960.9 C242.8 1960.5 248.3 1960.2 251.0 1958.9 C253.8 1957.6 257.1 1955.1 257.9 1953.0 C258.7 1950.9 258.3 1948.7 256.0 1946.1 C253.7 1943.5 246.1 1938.8 244.2 1937.3"/>
<path d="M244.2 1936.3 C246.5 1937.4 253.7 1941.9 257.9 1943.2 C262.2 1944.5 267.3 1944.5 269.7 1944.2 C272.2 1943.8 272.2 1941.7 272.7 1941.2"/>
<path d="M273.7 1941.2 C273.9 1938.8 274.8 1931.4 274.8 1926.5 C274.8 1921.5 274.7 1915.3 273.7 1911.7 C272.6 1908.1 269.6 1906.0 268.7 1904.8"/>
<path d="M302.2 1933.3 C302.4 1931.5 302.7 1925.6 303.6 1922.5 C304.6 1919.4 306.7 1917.0 308.1 1914.7 C309.5 1912.4 311.5 1910.7 312.0 1908.8 C312.5 1906.8 311.2 1903.8 311.0 1902.9"/>
<path d="M310.0 1909.7 C309.6 1908.8 308.0 1905.2 307.6 1904.3"/>
<path d="M332.6 1934.3 C334.5 1932.4 340.2 1925.8 343.5 1922.5 C346.7 1919.3 350.4 1915.7 352.3 1914.7 C354.2 1913.6 354.4 1915.9 354.8 1916.1"/>
<path d="M332.6 1936.3 C334.3 1935.6 339.0 1933.9 342.5 1932.4 C345.9 1930.8 351.5 1927.9 353.3 1927.0"/>
<path d="M325.8 1965.3 C327.7 1965.1 334.1 1963.6 337.6 1963.8 C341.0 1964.1 343.0 1965.6 346.4 1966.8 C349.9 1967.9 356.2 1970.1 358.2 1970.7"/>
<path d="M325.8 1988.4 C327.7 1989.9 334.3 1994.3 337.6 1997.3 C340.8 2000.2 343.4 2003.2 345.4 2006.1 C347.5 2009.1 349.1 2013.5 349.9 2015.0"/>
<path d="M345.4 2007.1 C347.1 2008.2 353.6 2012.8 355.3 2014.0"/>
<path d="M321.8 1992.3 C322.2 1994.1 323.3 1999.9 323.8 2003.2 C324.3 2006.4 324.6 2010.5 324.8 2012.0"/>
<path d="M302.2 2006.1 C302.1 2008.7 301.8 2019.2 301.7 2021.8"/>
<path d="M303.2 2008.1 C304.0 2009.4 307.6 2013.3 308.1 2015.9 C308.6 2018.6 306.4 2022.5 306.1 2023.8"/>
<path d="M273.7 1997.3 C273.5 1999.9 271.7 2008.4 272.7 2013.0 C273.7 2017.6 278.4 2022.8 279.6 2024.8"/>
<path d="M241.2 1993.3 C239.7 1995.0 234.7 1999.5 232.4 2003.2 C230.1 2006.8 228.8 2011.3 227.4 2015.0 C226.1 2018.6 225.0 2023.1 224.5 2024.8"/>
<path d="M228.4 2015.9 C228.8 2017.9 230.1 2025.8 230.4 2027.7"/>
<path d="M241.2 1976.6 C239.2 1977.1 233.0 1978.7 229.4 1979.6 C225.8 1980.4 223.3 1981.2 219.6 1981.5 C215.8 1981.8 208.9 1981.5 206.8 1981.5"/>
<path d="M238.3 1976.6 C236.8 1976.1 230.9 1974.1 229.4 1973.7"/>
<path d="M241.2 1960.9 C239.4 1960.7 234.3 1960.5 230.4 1959.9 C226.5 1959.2 219.7 1957.4 217.6 1956.9"/>
<path d="M244.2 1937.3 C242.2 1936.6 237.3 1934.3 232.4 1933.3 C227.4 1932.4 219.7 1931.7 214.7 1931.4 C209.6 1931.1 204.0 1931.4 201.9 1931.4"/>
<path d="M227.4 1932.9 C225.6 1932.2 219.9 1930.0 216.6 1928.9 C213.4 1927.9 209.3 1926.9 207.8 1926.5"/>
<path d="M244.2 1936.3 C242.8 1934.2 240.1 1927.2 236.3 1923.5 C232.5 1919.8 224.0 1915.7 221.5 1914.2"/>
<path d="M238.3 1926.5 C236.3 1925.5 230.2 1921.8 226.5 1920.6 C222.7 1919.3 217.4 1919.3 215.6 1919.1"/>
</g>
<ellipse cx="284.5" cy="1962.8" rx="18" ry="11.9" fill="url(#nuc)" stroke="#7222ec" stroke-width="4.4"/>
<!-- cells -->
<ellipse cx="462.0" cy="874.0" rx="27.6" ry="16.3" fill="url(#cPink)" stroke="#0e2232" stroke-width="5.2"/>
<ellipse cx="389.0" cy="905.0" rx="27.6" ry="16.3" fill="url(#cPink)" stroke="#0e2232" stroke-width="5.2"/>
<ellipse cx="581.0" cy="904.5" rx="27.6" ry="16.3" fill="url(#cPink)" stroke="#0e2232" stroke-width="5.2"/>
<ellipse cx="491.0" cy="927.5" rx="27.6" ry="16.3" fill="url(#cPink)" stroke="#0e2232" stroke-width="5.2"/>
<ellipse cx="402.0" cy="964.5" rx="27.6" ry="16.3" fill="url(#cPink)" stroke="#0e2232" stroke-width="5.2"/>
<ellipse cx="540.0" cy="973.0" rx="27.6" ry="16.3" fill="url(#cPink)" stroke="#0e2232" stroke-width="5.2"/>
<ellipse cx="918.7" cy="863.5" rx="27.6" ry="16.3" fill="url(#cBlue)" stroke="#0e2232" stroke-width="5.2"/>
<ellipse cx="850.8" cy="905.6" rx="27.6" ry="16.3" fill="url(#cBlue)" stroke="#0e2232" stroke-width="5.2"/>
<ellipse cx="1033.8" cy="891.8" rx="27.6" ry="16.3" fill="url(#cBlue)" stroke="#0e2232" stroke-width="5.2"/>
<ellipse cx="948.5" cy="925.2" rx="27.6" ry="16.3" fill="url(#cBlue)" stroke="#0e2232" stroke-width="5.2"/>
<ellipse cx="872.8" cy="968.6" rx="27.6" ry="16.3" fill="url(#cBlue)" stroke="#0e2232" stroke-width="5.2"/>
<ellipse cx="1000.0" cy="965.3" rx="27.6" ry="16.3" fill="url(#cBlue)" stroke="#0e2232" stroke-width="5.2"/>
<ellipse cx="1463.7" cy="857.0" rx="27.6" ry="16.3" fill="url(#cPeach)" stroke="#0e2232" stroke-width="5.2"/>
<ellipse cx="1557.4" cy="868.6" rx="27.6" ry="16.3" fill="url(#cPeach)" stroke="#0e2232" stroke-width="5.2"/>
<ellipse cx="1417.4" cy="920.0" rx="27.6" ry="16.3" fill="url(#cPeach)" stroke="#0e2232" stroke-width="5.2"/>
<ellipse cx="1513.4" cy="920.0" rx="27.6" ry="16.3" fill="url(#cPeach)" stroke="#0e2232" stroke-width="5.2"/>
<ellipse cx="1596.7" cy="960.0" rx="27.6" ry="16.3" fill="url(#cPeach)" stroke="#0e2232" stroke-width="5.2"/>
<ellipse cx="1452.0" cy="979.7" rx="27.6" ry="16.3" fill="url(#cPeach)" stroke="#0e2232" stroke-width="5.2"/>

<!-- big dish -->
<g>
<path d="M682.4 1497.9 L682.4 1582.9 A220.4 41.7 0 0 0 1123.2 1582.9 L1123.2 1497.9" fill="none" stroke="#7a7a7a" stroke-width="5"/>
<ellipse cx="903" cy="1580" rx="219.5" ry="41.5" fill="#e8e8ec"/>
<ellipse cx="903" cy="1582.5" rx="218.5" ry="39" fill="#fed42f"/>
<path d="M682.4 1582.9 A220.4 41.7 0 0 0 1123.2 1582.9" fill="none" stroke="#7a7a7a" stroke-width="5"/>
<line x1="682.4" y1="1497.9" x2="682.4" y2="1582.9" stroke="#7a7a7a" stroke-width="5"/>
<line x1="1123.2" y1="1497.9" x2="1123.2" y2="1582.9" stroke="#7a7a7a" stroke-width="5"/>
<ellipse cx="902.8" cy="1497.9" rx="220.4" ry="41.75" fill="none" stroke="#7a7a7a" stroke-width="5.2"/>
</g>
<!-- small dish -->
<g stroke="#7a7a7a" stroke-width="4.8">
<path d="M1410.2 549.8 L1410.2 585.6 A89.6 15.8 0 0 0 1589.4 585.6 L1589.4 549.8 Z" fill="#f0a882"/>
<ellipse cx="1499.8" cy="549.8" rx="89.6" ry="16.5" fill="#f5cfb8"/>
</g>

<ellipse cx="767.2" cy="1955.2" rx="8.1" ry="14.3" fill="#0c3450"/><ellipse cx="767.2" cy="1955.2" rx="3.3" ry="9.5" fill="#1f6e96"/>
<ellipse cx="799.4" cy="1933.1" rx="8.1" ry="14.3" fill="#0c3450"/><ellipse cx="799.4" cy="1933.1" rx="3.3" ry="9.5" fill="#1f6e96"/>
<ellipse cx="802.8" cy="1966.2" rx="8.1" ry="14.3" fill="#0c3450"/><ellipse cx="802.8" cy="1966.2" rx="3.3" ry="9.5" fill="#1f6e96"/>
<ellipse cx="823.7" cy="1987.7" rx="8.1" ry="14.3" fill="#0c3450"/><ellipse cx="823.7" cy="1987.7" rx="3.3" ry="9.5" fill="#1f6e96"/>
<ellipse cx="844.6" cy="1952.5" rx="8.1" ry="14.3" fill="#0c3450"/><ellipse cx="844.6" cy="1952.5" rx="3.3" ry="9.5" fill="#1f6e96"/>
<ellipse cx="876.8" cy="1930.6" rx="8.1" ry="14.3" fill="#0c3450"/><ellipse cx="876.8" cy="1930.6" rx="3.3" ry="9.5" fill="#1f6e96"/>
<ellipse cx="880.0" cy="1963.9" rx="8.1" ry="14.3" fill="#0c3450"/><ellipse cx="880.0" cy="1963.9" rx="3.3" ry="9.5" fill="#1f6e96"/>
<ellipse cx="901.4" cy="1985.2" rx="8.1" ry="14.3" fill="#0c3450"/><ellipse cx="901.4" cy="1985.2" rx="3.3" ry="9.5" fill="#1f6e96"/>
<g stroke="#4b0f40" stroke-width="5">
<rect x="1360.1" y="1870.5" width="158.2" height="59" rx="10" fill="#a02a98"/>
<rect x="1563.5" y="1880.5" width="134.4" height="51.4" rx="10" fill="#f5c3a8"/>
<rect x="1439.7" y="1965.7" width="134.3" height="51.5" rx="10" fill="#e39ddc"/>
</g>
<text class="t" x="1438.8" y="1911.4" text-anchor="middle" style="fill:#fff;stroke:#fff">IL-4</text>
<text class="t" x="1628.9" y="1916.9" text-anchor="middle" style="fill:#fcefe8;stroke:#fcefe8">IL-11</text>
<text class="t" x="1506.8" y="2002.7" text-anchor="middle" style="fill:#fff;stroke:#fff">IL-6</text>
</svg>
</body></html>
